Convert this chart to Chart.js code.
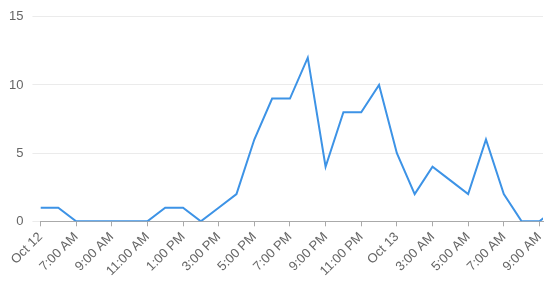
<!DOCTYPE html>
<html>
<head>
<meta charset="utf-8">
<script src="https://cdn.jsdelivr.net/npm/chart.js@4"></script>
<style>
html,body{margin:0;padding:0;background:#fff;}
#wrap{width:554px;height:284px;}
</style>
</head>
<body>
<div id="wrap"><canvas id="c"></canvas></div>
<script>
// Hourly values starting Oct 12 (index = hour offset)
const values = [1,1,0,0,0,0,0,1,1,0,1,2,6,9,9,12,4,8,8,10,5,2,4,3,2,6,2,0,0,1];
const tickHours = [0,2,4,6,8,10,12,14,16,18,20,22,24,26,28];
const tickLabels = ["Oct 12","7:00 AM","9:00 AM","11:00 AM","1:00 PM","3:00 PM","5:00 PM","7:00 PM","9:00 PM","11:00 PM","Oct 13","3:00 AM","5:00 AM","7:00 AM","9:00 AM"];
const yTicks = [0,5,10,15];

const points = values.map((v,i)=>({x:i,y:v}));

new Chart(document.getElementById('c'),{
  type:'line',
  data:{datasets:[{
    data:points,
    borderColor:'#3d93e6',
    borderWidth:2,
    pointRadius:0,
    tension:0,
    fill:false,
    clip:0
  }]},
  options:{
    responsive:true,
    maintainAspectRatio:false,
    animation:false,
    layout:{padding:{top:13,right:11,left:0,bottom:2}},
    plugins:{legend:{display:false},tooltip:{enabled:false}},
    scales:{
      x:{
        type:'linear',
        min:0,max:28.2,
        afterBuildTicks:(axis)=>{axis.ticks = tickHours.map(v=>({value:v}));},
        ticks:{
          autoSkip:false,
          minRotation:45,maxRotation:45,
          color:'#666',
          font:{family:'Liberation Sans, Arial',size:13},
          padding:3,
          callback:(v)=>{const k=tickHours.indexOf(v);return k>=0?tickLabels[k]:'';}
        },
        grid:{drawOnChartArea:false,drawTicks:true,tickLength:5,color:'#aaa'},
        border:{color:'#aaa'}
      },
      y:{
        min:0,max:15,
        afterBuildTicks:(axis)=>{axis.ticks = yTicks.map(v=>({value:v}));},
        ticks:{color:'#666',font:{family:'Liberation Sans, Arial',size:13},padding:9},
        grid:{color:'#ebebeb',tickLength:8},
        border:{display:false}
      }
    }
  }
});
</script>
</body>
</html>
